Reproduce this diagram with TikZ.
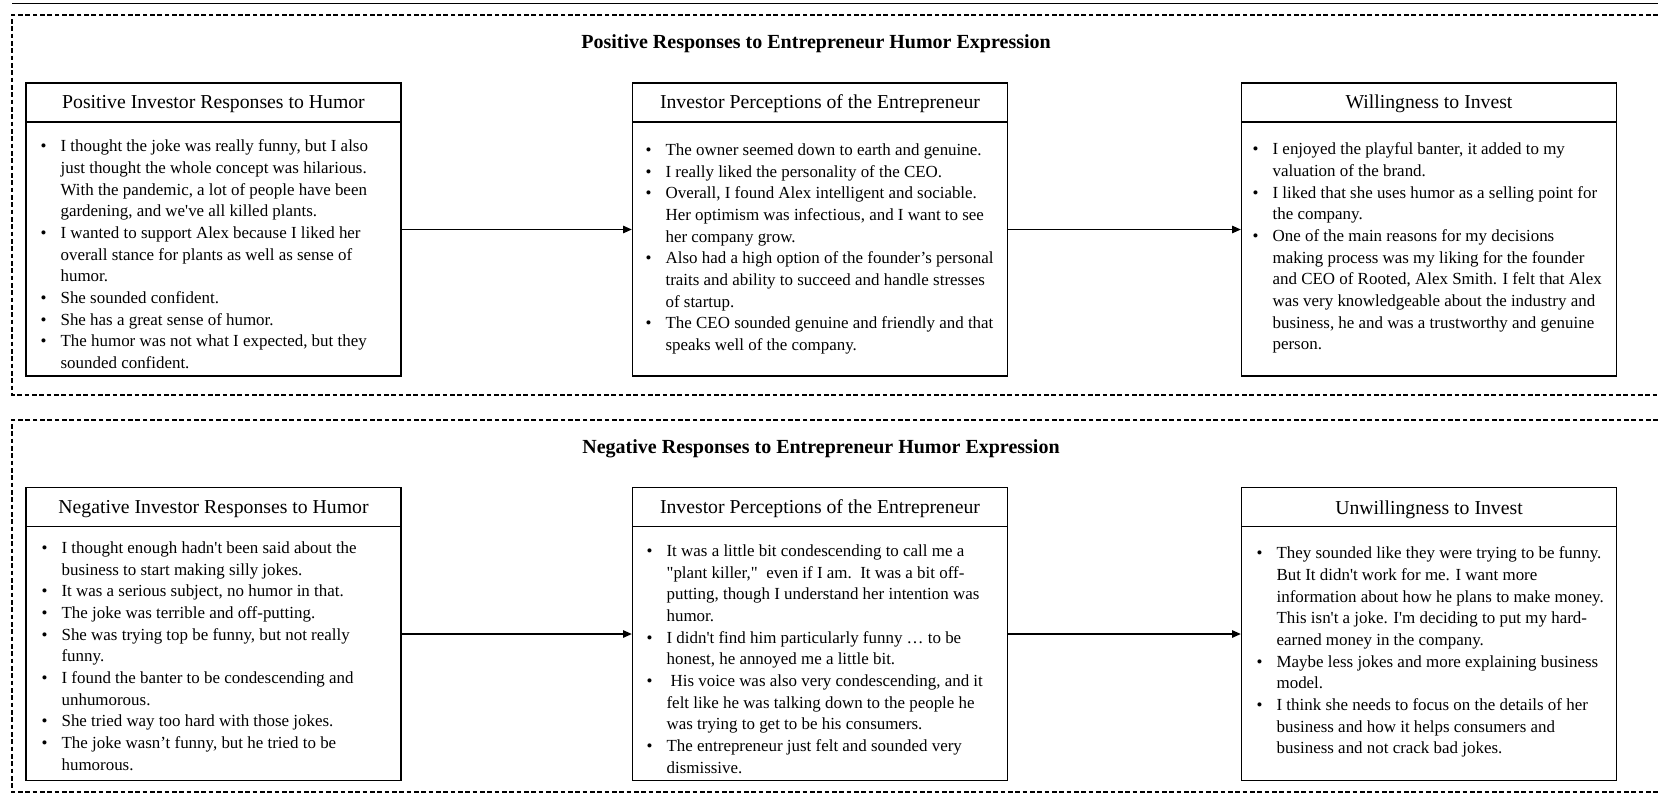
\documentclass[tikz,border=0pt]{standalone}
\usepackage{fontspec}
\setmainfont{Liberation Serif}
\usetikzlibrary{arrows.meta,calc}
\newcommand\bl{\makebox[15pt][l]{\textbullet}}
\newcommand\sq{\textquotesingle}
\begin{document}
\begin{tikzpicture}[x=0.75pt,y=-0.75pt,
  frame/.style={line width=0.8pt, dash pattern=on 3.5pt off 2pt},
  rule/.style={line width=1.1pt},
  card/.style={draw, line width=1pt, rectangle, minimum width=375*0.75pt, minimum height=293*0.75pt, inner sep=0pt},
  sep/.style={line width=1pt},
  ttl/.style={font=\fontsize{15}{18}\selectfont\bfseries, anchor=base, inner sep=0pt},
  hdr/.style={font=\fontsize{14.8}{18}\selectfont, anchor=base, inner sep=0pt},
  bodytxt/.style={font=\fontsize{12.7}{16.25}\selectfont, anchor=base west, inner sep=0pt},
  arr/.style={line width=1pt, -{Triangle[length=6.5pt,width=5.5pt]}}
]
\useasboundingbox (0,0) rectangle (1658,811);

% top rule
\coordinate (r1) at (12,3.5);
\coordinate (r2) at (1680,3.5);
\draw[rule] (r1) -- (r2);

% dashed frames (open on the right, cut by the page)
\coordinate (fa1) at (1680,15);
\coordinate (fa2) at (12,15);
\coordinate (fa3) at (12,395);
\coordinate (fa4) at (1680,395);
\draw[frame] (fa1) -- (fa2) -- (fa3) -- (fa4);
\coordinate (fb1) at (1680,420);
\coordinate (fb2) at (12,420);
\coordinate (fb3) at (12,792);
\coordinate (fb4) at (1680,792);
\draw[frame] (fb1) -- (fb2) -- (fb3) -- (fb4);

% titles
\node[ttl] (tpos) at (816,48) {Positive Responses to Entrepreneur Humor Expression};
\node[ttl] (tneg) at (821,453) {Negative Responses to Entrepreneur Humor Expression};

% boxes
\node[card] (p1) at (213.5,229.5) {};
\node[card] (p2) at (820,229.5) {};
\node[card] (p3) at (1429,229.5) {};
\node[card] (n1) at (213.5,634) {};
\node[card] (n2) at (820,634) {};
\node[card] (n3) at (1429,634) {};

\foreach \b in {p1,p2,p3,n1,n2,n3}{
  \draw[sep] ($(\b.north west)+(0,39.5)$) -- ($(\b.north east)+(0,39.5)$);
}

% headers
\node[hdr] (p1h) at ($(p1.north)+(0,26)$) {Positive Investor Responses to Humor};
\node[hdr] (p2h) at ($(p2.north)+(0,26)$) {Investor Perceptions of the Entrepreneur};
\node[hdr] (p3h) at ($(p3.north)+(0,26.5)$) {Willingness to Invest};
\node[hdr] (n1h) at ($(n1.north)+(0,26.5)$) {Negative Investor Responses to Humor};
\node[hdr] (n2h) at ($(n2.north)+(0,26.5)$) {Investor Perceptions of the Entrepreneur};
\node[hdr] (n3h) at ($(n3.north)+(0,27.5)$) {Unwillingness to Invest};

% bodies
\node[bodytxt] (p1t) at ($(p1.north west)+(15,69.5)$) {\begin{tabular}[t]{@{}l@{}l@{}}
\bl & I thought the joke was really funny, but I also\\
 & just thought the whole concept was hilarious.\\
 & With the pandemic, a lot of people have been\\
 & gardening, and we\sq ve all killed plants.\\
\bl & I wanted to support Alex because I liked her\\
 & overall stance for plants as well as sense of\\
 & humor.\\
\bl & She sounded confident.\\
\bl & She has a great sense of humor.\\
\bl & The humor was not what I expected, but they\\
 & sounded confident.
\end{tabular}};

\node[bodytxt] (p2t) at ($(p2.north west)+(13.5,73)$) {\begin{tabular}[t]{@{}l@{}l@{}}
\bl & The owner seemed down to earth and genuine.\\
\bl & I really liked the personality of the CEO.\\
\bl & Overall, I found Alex intelligent and sociable.\\
 & Her optimism was infectious, and I want to see\\
 & her company grow.\\
\bl & Also had a high option of the founder’s personal\\
 & traits and ability to succeed and handle stresses\\
 & of startup.\\
\bl & The CEO sounded genuine and friendly and that\\
 & speaks well of the company.
\end{tabular}};

\node[bodytxt] (p3t) at ($(p3.north west)+(11.5,72.5)$) {\begin{tabular}[t]{@{}l@{}l@{}}
\bl & I enjoyed the playful banter, it added to my\\
 & valuation of the brand.\\
\bl & I liked that she uses humor as a selling point for\\
 & the company.\\
\bl & One of the main reasons for my decisions\\
 & making process was my liking for the founder\\
 & and CEO of Rooted, Alex Smith. I felt that Alex\\
 & was very knowledgeable about the industry and\\
 & business, he and was a trustworthy and genuine\\
 & person.
\end{tabular}};

\node[bodytxt] (n1t) at ($(n1.north west)+(16,66.5)$) {\begin{tabular}[t]{@{}l@{}l@{}}
\bl & I thought enough hadn\sq t been said about the\\
 & business to start making silly jokes.\\
\bl & It was a serious subject, no humor in that.\\
\bl & The joke was terrible and off-putting.\\
\bl & She was trying top be funny, but not really\\
 & funny.\\
\bl & I found the banter to be condescending and\\
 & unhumorous.\\
\bl & She tried way too hard with those jokes.\\
\bl & The joke wasn’t funny, but he tried to be\\
 & humorous.
\end{tabular}};

\node[bodytxt] (n2t) at ($(n2.north west)+(14.5,69.5)$) {\begin{tabular}[t]{@{}l@{}l@{}}
\bl & It was a little bit condescending to call me a\\
 & \textquotedbl plant killer,\textquotedbl\ \ even if I am.\ \ It was a bit off-\\
 & putting, though I understand her intention was\\
 & humor.\\
\bl & I didn\sq t find him particularly funny …\ to be\\
 & honest, he annoyed me a little bit.\\
\bl & \hspace{3pt}His voice was also very condescending, and it\\
 & felt like he was talking down to the people he\\
 & was trying to get to be his consumers.\\
\bl & The entrepreneur just felt and sounded very\\
 & dismissive.
\end{tabular}};

\node[bodytxt] (n3t) at ($(n3.north west)+(15.5,72)$) {\begin{tabular}[t]{@{}l@{}l@{}}
\bl & They sounded like they were trying to be funny.\\
 & But It didn\sq t work for me. I want more\\
 & information about how he plans to make money.\\
 & This isn\sq t a joke. I\sq m deciding to put my hard-\\
 & earned money in the company.\\
\bl & Maybe less jokes and more explaining business\\
 & model.\\
\bl & I think she needs to focus on the details of her\\
 & business and how it helps consumers and\\
 & business and not crack bad jokes.
\end{tabular}};

% connectors
\draw[arr] (p1.east) -- (p2.west);
\draw[arr] (p2.east) -- (p3.west);
\draw[arr] (n1.east) -- (n2.west);
\draw[arr] (n2.east) -- (n3.west);
\end{tikzpicture}
\end{document}
